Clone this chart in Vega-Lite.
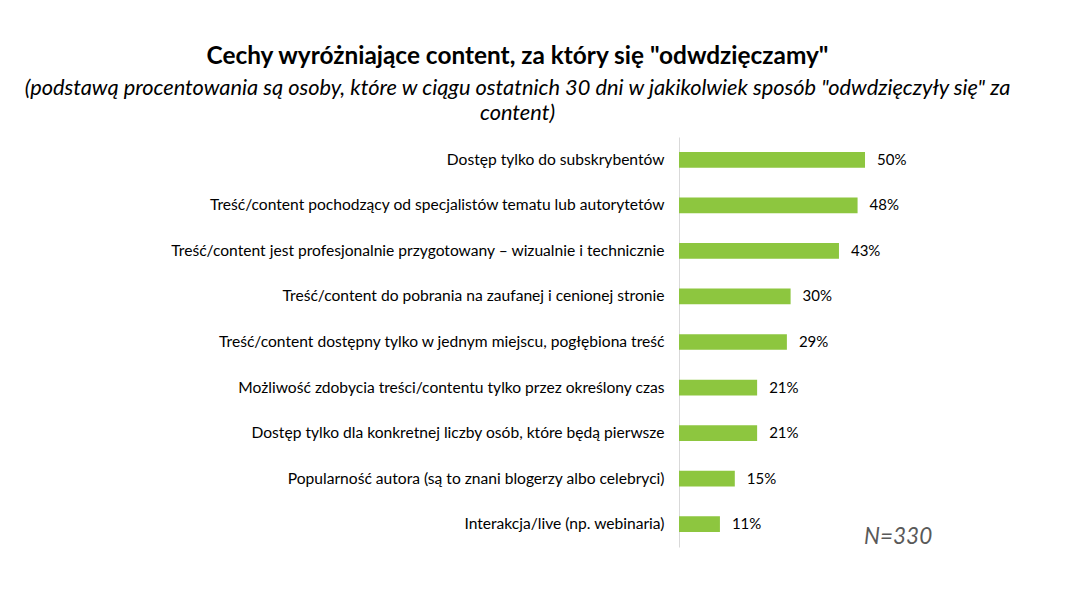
{
  "$schema": "https://vega.github.io/schema/vega-lite/v6.json",
  "autosize": "none",
  "width": 391,
  "height": 410,
  "padding": {"left": 679, "top": 137, "right": 0, "bottom": 45},
  "background": "white",
  "config": {"view": {"stroke": null}, "font": "Lato"},
  "title": {
    "text": "Cechy wyróżniające content, za który się \"odwdzięczamy\"",
    "subtitle": ["(podstawą procentowania są osoby, które w ciągu ostatnich 30 dni w jakikolwiek sposób \"odwdzięczyły się\" za", "content)"],
    "anchor": "middle",
    "dx": -357,
    "offset": 11,
    "font": "Lato",
    "fontSize": 24.4,
    "fontWeight": "bold",
    "color": "#000000",
    "subtitleFont": "Lato",
    "subtitleFontSize": 21.8,
    "subtitleFontStyle": "italic",
    "subtitleColor": "#000000",
    "subtitlePadding": 8,
    "subtitleLineHeight": 25.5
  },
  "data": {
    "values": [
      {"cecha": "Dostęp tylko do subskrybentów", "pct": 0.50},
      {"cecha": "Treść/content pochodzący od specjalistów tematu lub autorytetów", "pct": 0.48},
      {"cecha": "Treść/content jest profesjonalnie przygotowany – wizualnie i technicznie", "pct": 0.43},
      {"cecha": "Treść/content do pobrania na zaufanej i cenionej stronie", "pct": 0.30},
      {"cecha": "Treść/content dostępny tylko w jednym miejscu, pogłębiona treść", "pct": 0.29},
      {"cecha": "Możliwość zdobycia treści/contentu tylko przez określony czas", "pct": 0.21},
      {"cecha": "Dostęp tylko dla konkretnej liczby osób, które będą pierwsze", "pct": 0.21},
      {"cecha": "Popularność autora (są to znani blogerzy albo celebryci)", "pct": 0.15},
      {"cecha": "Interakcja/live (np. webinaria)", "pct": 0.11}
    ]
  },
  "layer": [
    {
      "mark": {"type": "bar", "color": "#8DC63F"},
      "encoding": {
        "y": {
          "field": "cecha",
          "type": "nominal",
          "sort": null,
          "scale": {"paddingInner": 0.655, "paddingOuter": 0.3275},
          "axis": {
            "title": null,
            "ticks": false,
            "domainColor": "#d9d9d9",
            "domainWidth": 1,
            "labelFont": "Lato",
            "labelFontSize": 15.6,
            "labelColor": "#000000",
            "labelPadding": 15,
            "labelLimit": 0
          }
        },
        "x": {
          "field": "pct",
          "type": "quantitative",
          "scale": {"domain": [0, 1.051], "nice": false},
          "axis": null
        }
      }
    },
    {
      "mark": {"type": "text", "align": "left", "baseline": "middle", "dx": 12, "font": "Lato", "fontSize": 15, "color": "#000000"},
      "encoding": {
        "y": {"field": "cecha", "type": "nominal", "sort": null},
        "x": {"field": "pct", "type": "quantitative"},
        "text": {"field": "pct", "type": "quantitative", "format": ".0%"}
      }
    },
    {
      "data": {"values": [{"n": "N=330", "cecha": "Interakcja/live (np. webinaria)", "pos": 0.589}]},
      "mark": {"type": "text", "align": "center", "baseline": "middle", "dy": 13, "font": "Lato", "fontSize": 22.5, "fontStyle": "italic", "color": "#595959"},
      "encoding": {
        "text": {"field": "n", "type": "nominal"},
        "x": {"field": "pos", "type": "quantitative"},
        "y": {"field": "cecha", "type": "nominal", "sort": null}
      }
    }
  ]
}
